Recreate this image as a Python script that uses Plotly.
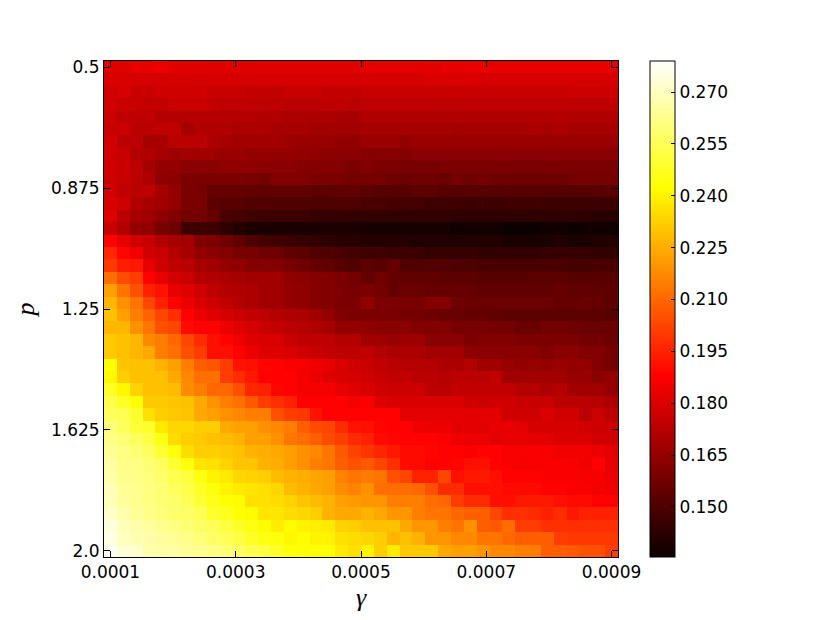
import numpy as np
import plotly.graph_objects as go

gamma_ticks = [0.0001, 0.0003, 0.0005, 0.0007, 0.0009]
gamma_labels = ["0.0001", "0.0003", "0.0005", "0.0007", "0.0009"]
p_ticks = [0.5, 0.875, 1.25, 1.625, 2.0]
p_labels = ["0.5", "0.875", "1.25", "1.625", "2.0"]
cbar_ticks = [0.150, 0.165, 0.180, 0.195, 0.210, 0.225, 0.240, 0.255, 0.270]
cbar_labels = ["0.150", "0.165", "0.180", "0.195", "0.210", "0.225", "0.240", "0.255", "0.270"]
zmin, zmax = 0.1355, 0.279

# values, in thousandths, top row (p=0.5) first
rows = [
[181,181,183,183,184,181,181,181,181,181,181,181,181,181,181,181,181,181,181,181,182,182,182,182,182,182,183,183,183,183,183,183,183,183,183,183,183,183,183,183],
[180,180,179,179,179,179,179,179,179,179,179,179,179,179,179,179,179,179,179,179,179,179,179,179,179,180,180,180,180,179,179,179,179,179,179,179,179,179,179,179],
[178,179,176,176,178,178,178,178,176,176,176,175,175,175,176,176,176,175,175,175,176,176,176,176,176,176,176,176,176,176,176,176,176,176,176,176,177,177,177,177],
[178,176,176,175,175,176,176,176,175,174,174,174,174,174,173,173,173,174,174,173,174,174,174,174,174,174,174,174,174,174,174,174,174,174,174,174,174,174,174,174],
[177,174,174,174,172,172,172,172,172,172,172,172,171,171,170,170,170,170,169,169,171,171,171,171,171,171,171,171,171,171,171,171,171,171,171,171,171,171,171,171],
[176,176,173,173,174,174,169,171,171,171,170,170,170,169,169,169,168,168,168,168,169,169,169,169,169,169,169,168,169,169,169,169,169,170,169,170,169,169,169,169],
[178,173,173,169,169,173,173,173,170,169,168,168,168,168,167,166,166,166,165,165,166,166,166,165,166,166,166,166,166,166,166,166,166,166,166,166,166,166,166,166],
[178,176,171,171,169,167,168,168,167,166,166,165,165,165,165,165,164,163,163,163,162,162,162,162,163,163,163,163,163,163,163,163,163,163,163,163,163,163,163,163],
[178,176,174,169,165,165,163,163,163,164,164,164,163,163,163,162,162,162,161,160,161,160,160,159,159,159,160,160,160,160,160,160,159,159,160,160,160,160,160,160],
[177,176,173,170,164,163,160,160,160,160,160,159,158,161,161,161,160,160,159,158,158,158,157,156,157,157,156,158,157,158,157,157,157,157,157,157,158,158,158,158],
[178,175,173,174,169,165,160,159,155,155,155,154,154,154,154,154,153,153,154,154,153,152,152,152,153,153,152,152,152,152,152,152,152,152,152,152,152,152,152,153],
[179,178,171,169,168,165,160,159,153,152,152,151,151,150,150,150,150,150,150,150,149,149,148,148,148,147,147,147,146,147,146,147,147,147,146,146,146,146,146,146],
[181,173,169,168,164,161,158,158,155,149,148,147,146,146,146,146,145,145,145,144,144,144,144,144,144,144,144,143,143,143,143,143,143,143,143,143,143,143,142,142],
[176,171,165,164,159,157,146,146,146,143,141,139,139,139,139,139,139,139,139,139,138,138,138,138,138,138,138,137,137,137,137,136,136,136,137,137,136,137,137,137],
[188,183,178,176,171,169,168,161,160,157,154,150,148,147,146,145,144,143,142,142,141,141,141,141,140,140,140,140,140,140,140,139,139,139,139,140,139,139,140,140],
[196,189,185,178,176,172,169,165,163,161,159,159,157,157,154,153,151,150,149,148,147,147,146,146,146,145,145,145,145,144,144,144,144,144,145,145,145,145,144,144],
[200,194,193,183,178,174,173,169,168,165,164,162,162,161,159,157,155,154,152,151,153,152,155,151,151,151,151,150,150,149,149,149,149,149,149,149,148,148,149,149],
[211,204,201,188,183,179,176,172,171,170,169,168,168,168,164,163,162,161,160,158,155,157,155,154,154,154,153,153,153,152,152,152,152,153,153,153,152,152,152,152],
[222,213,205,195,192,183,181,178,174,172,171,170,168,168,165,164,162,161,160,159,160,158,155,156,156,155,155,155,155,154,154,154,154,154,154,155,154,154,154,153],
[227,219,213,203,195,188,184,180,177,175,172,170,168,168,165,164,162,161,160,160,164,160,160,159,159,162,162,157,156,156,156,156,156,156,156,155,155,156,155,153],
[229,222,215,209,203,198,188,184,181,179,177,175,174,172,171,170,168,165,161,160,160,160,159,158,158,157,156,156,155,155,154,153,153,153,153,153,153,153,153,152],
[227,227,219,213,205,203,190,188,188,184,181,179,176,175,173,172,171,169,165,165,164,163,163,163,161,161,161,159,159,159,158,158,156,156,158,158,157,156,156,156],
[231,229,227,217,215,210,203,197,191,188,185,181,180,180,176,174,174,174,172,172,168,167,166,167,167,163,163,163,160,161,161,161,160,160,160,160,160,158,158,156],
[231,229,227,224,215,212,205,201,191,191,188,184,181,181,180,178,176,175,174,174,174,172,170,170,170,168,168,168,164,163,163,163,163,163,161,163,163,161,161,158],
[243,230,229,229,226,222,215,208,206,201,192,191,189,188,187,186,185,183,180,178,176,175,173,172,172,172,170,170,172,168,168,166,165,166,165,166,165,165,161,158],
[241,232,229,229,229,224,217,212,212,201,197,193,188,188,188,186,184,181,180,179,178,176,175,175,173,173,172,173,173,173,175,168,168,168,168,168,166,166,163,165],
[248,241,233,229,229,228,218,215,210,210,205,196,195,189,188,186,186,186,183,181,180,178,177,177,177,173,173,175,175,175,175,175,172,172,170,172,168,168,168,165],
[253,248,243,231,231,230,229,224,219,215,212,207,201,198,195,188,188,188,188,186,187,181,180,180,180,180,180,180,178,177,178,178,176,176,176,173,173,173,172,170],
[256,254,249,236,232,231,230,224,222,219,217,215,215,205,201,200,192,188,188,188,188,188,188,182,182,182,182,182,182,182,182,178,178,178,180,178,178,173,177,173],
[260,256,250,249,238,234,234,232,232,224,222,222,219,217,215,208,204,203,197,192,191,189,188,188,185,184,184,182,182,182,183,183,182,179,179,179,179,178,177,177],
[262,259,256,252,245,235,232,231,229,228,226,222,222,219,213,211,208,204,201,197,195,190,189,188,188,188,187,185,184,184,182,183,183,182,182,180,180,180,178,178],
[264,261,259,256,250,244,235,232,232,231,229,226,225,224,222,219,217,213,207,202,199,196,193,190,190,189,188,188,187,188,188,187,187,187,186,185,185,185,184,182],
[266,262,261,259,256,250,244,237,236,233,230,230,226,225,222,219,215,213,208,205,207,203,198,190,190,188,188,189,191,191,188,187,186,187,187,187,187,185,188,183],
[267,263,262,260,258,254,251,245,240,238,234,233,232,228,226,225,223,222,216,213,214,213,205,203,195,195,203,191,193,193,191,188,188,188,187,187,187,186,186,184],
[269,264,263,261,259,256,253,248,244,240,238,237,236,234,228,226,224,222,218,216,219,212,211,211,210,205,197,197,191,191,191,190,190,190,188,188,187,187,186,185],
[269,265,263,261,259,258,255,250,246,243,242,236,236,235,233,230,228,226,222,221,220,220,215,215,215,211,210,201,197,197,191,191,193,193,193,191,190,190,188,188],
[271,267,264,262,260,258,257,255,249,247,243,242,237,237,235,234,232,226,224,224,226,224,220,220,215,213,213,210,208,208,203,198,198,197,195,197,193,195,195,195],
[274,269,267,265,263,261,259,257,255,252,248,245,242,239,242,240,239,238,233,232,229,229,229,224,220,220,215,213,219,208,207,211,201,201,198,198,198,198,198,198],
[275,270,268,267,265,264,262,260,257,255,252,248,245,244,241,243,240,240,236,235,234,232,227,229,226,220,220,217,217,213,213,210,208,208,208,201,200,200,200,200],
[277,273,272,267,266,266,264,263,261,259,257,254,252,248,244,243,243,243,238,236,240,232,238,231,231,231,224,222,222,220,217,217,215,215,208,208,207,205,205,201],
]

hot = [
    [0.0, "rgb(11,0,0)"], [0.365079, "rgb(255,0,0)"],
    [0.746032, "rgb(255,255,0)"], [1.0, "rgb(255,255,255)"],
]

Z = np.array(rows) / 1000.0
gamma = np.linspace(gamma_ticks[0], gamma_ticks[-1], Z.shape[1])
p = np.linspace(p_ticks[0], p_ticks[-1], Z.shape[0])
FONT = "DejaVu Sans"
FS = 17

fig = go.Figure(go.Heatmap(
    x=gamma, y=p, z=Z, zmin=zmin, zmax=zmax, colorscale=hot,
    colorbar=dict(
        thickness=25, thicknessmode="pixels", len=1, lenmode="fraction",
        x=642/822, xref="container", xanchor="left", xpad=0, ypad=0,
        y=0.5, yref="paper", yanchor="middle",
        outlinewidth=1, outlinecolor="black",
        tickmode="array", tickvals=cbar_ticks, ticktext=cbar_labels,
        ticks="inside", ticklen=4, tickwidth=1, tickcolor="black",
        tickfont=dict(family=FONT, size=FS, color="black"),
    ),
))
dx = gamma[1] - gamma[0]
dy = p[1] - p[0]
axis_common = dict(
    ticks="inside", ticklen=6, tickwidth=1, tickcolor="black",
    showline=True, linecolor="black", linewidth=1, mirror="ticks",
    showgrid=False, zeroline=False,
    tickfont=dict(family=FONT, size=FS, color="black"),
)
fig.update_xaxes(range=[gamma[0]-dx/2, gamma[-1]+dx/2], tickmode="array",
                 tickvals=gamma_ticks, ticktext=gamma_labels,
                 title=dict(text="<i>γ</i>", font=dict(family="Liberation Serif", size=26, color="black"), standoff=6),
                 **axis_common)
fig.update_yaxes(range=[p[-1]+dy/2, p[0]-dy/2], tickmode="array",
                 tickvals=p_ticks, ticktext=p_labels,
                 title=dict(text="<i>p</i>", font=dict(family="Liberation Serif", size=26, color="black"), standoff=8),
                 **axis_common)
fig.update_layout(width=822, height=612, autosize=False,
                  margin=dict(l=96, r=212, t=53, b=63, pad=0, autoexpand=False),
                  paper_bgcolor="white", plot_bgcolor="white")
fig.write_html("out.html")
